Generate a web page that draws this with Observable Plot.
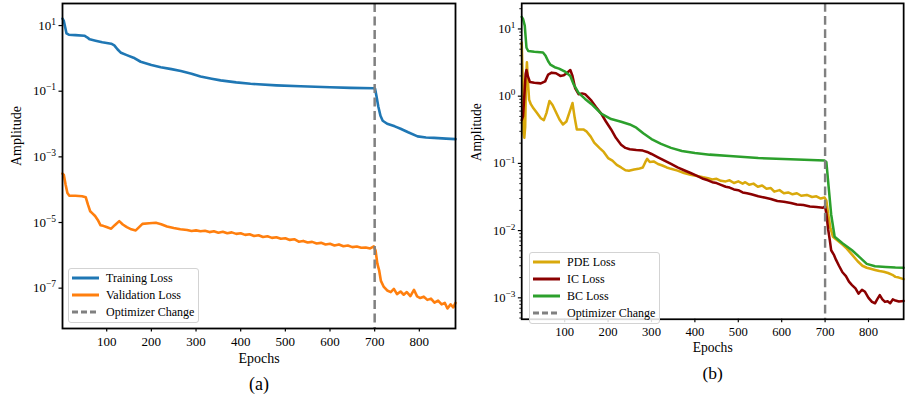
<!DOCTYPE html>
<html>
<head>
<meta charset="utf-8">
<script src="https://cdn.jsdelivr.net/npm/d3@7"></script>
<script src="https://cdn.jsdelivr.net/npm/@observablehq/plot@0.6"></script>
<style>
html, body { margin: 0; padding: 0; background: #fff; width: 909px; height: 403px; overflow: hidden; }
#wrap { position: relative; width: 909px; height: 403px; overflow: hidden; font-family: "Liberation Serif", "Times New Roman", serif; }
.panel { position: absolute; top: 0; }
.panel svg text { font-family: "Liberation Serif", "Times New Roman", serif; }
.legend { position: absolute; border: 1px solid #d3d3d3; border-radius: 3px; background: rgba(255,255,255,0.85); box-sizing: border-box; }
.legend .item { position: absolute; left: 0; height: 16px; width: 100%; }
.legend .item svg { position: absolute; left: 2px; top: 0; }
.legend .item span { position: absolute; left: 37px; top: 0; line-height: 16px; font-size: 12px; color: #000; white-space: nowrap; font-family: "Liberation Serif", "Times New Roman", serif; }
</style>
</head>
<body>
<div id="wrap"></div>
<script>
const SERIF = "Liberation Serif, Times New Roman, serif";
// ---------- shared ----------
const xTicks = [100, 200, 300, 400, 500, 600, 700, 800];
const optimizerChangeEpoch = 700;

// ---------- panel (a) ----------
const trainEpochs = [1,4,7,10,15,30,50,56,62,75,90,110,117,124,132,145,160,176,200,221,245,266,290,310,335,355,390,422,480,534,600,646,698,701,704,708,713,718,728,745,758,775,796,815,833,860,881];
const trainLoss = [16.2,13.8,8.9,5.75,5.25,5.1,4.9,4.4,3.8,3.45,3.1,2.8,2.5,1.9,1.48,1.26,1.05,0.79,0.63,0.54,0.47,0.41,0.34,0.28,0.24,0.214,0.186,0.168,0.151,0.141,0.132,0.126,0.123,0.117,0.071,0.035,0.0178,0.0126,0.0102,0.0085,0.0072,0.0056,0.0042,0.0039,0.0038,0.0036,0.00347];

const valEpochs = [1,4,8,12,16,30,45,53,58,63,68,74,80,86,92,98,104,110,118,128,136,145,155,165,172,180,195,210,222,235,250,265,280,290,300,310,320,330,340,350,360,370,380,390,400,410,420,430,440,450,460,470,480,490,500,510,520,530,540,550,560,570,580,590,600,610,620,630,640,650,660,670,680,690,698,702,706,710,714,720,728,736,743,750,758,765,772,780,788,795,802,810,818,826,834,842,850,857,863,870,876,881];
const valLoss = [3.1e-4,2.8e-4,1.41e-4,7.9e-5,6.6e-5,6.5e-5,6.3e-5,5.9e-5,3.5e-5,2.2e-5,1.9e-5,1.58e-5,1.2e-5,8.3e-6,7.9e-6,7.4e-6,6.9e-6,6.5e-6,8.3e-6,1.1e-5,8.7e-6,7.2e-6,6.2e-6,5.75e-6,7.1e-6,9.1e-6,9.5e-6,9.8e-6,8.9e-6,7.6e-6,6.8e-6,6.2e-6,5.9e-6,5.5e-6,5.75e-6,5.4e-6,5.6e-6,5.1e-6,5.4e-6,4.9e-6,5.25e-6,4.7e-6,5.0e-6,4.5e-6,4.7e-6,4.2e-6,4.4e-6,3.9e-6,4.1e-6,3.6e-6,3.8e-6,3.4e-6,3.55e-6,3.2e-6,3.3e-6,2.95e-6,3.1e-6,2.6e-6,2.75e-6,2.45e-6,2.57e-6,2.3e-6,2.4e-6,2.15e-6,2.25e-6,2.0e-6,2.15e-6,1.9e-6,2.0e-6,1.78e-6,1.86e-6,1.7e-6,1.74e-6,1.62e-6,1.86e-6,1.4e-6,5.6e-7,3.5e-7,1.66e-7,1.12e-7,8.5e-8,7.6e-8,9.5e-8,6.6e-8,7.9e-8,6.3e-8,7.6e-8,5.75e-8,8.9e-8,5.6e-8,5.0e-8,5.5e-8,4.4e-8,4.8e-8,3.6e-8,4.2e-8,3.2e-8,3.55e-8,2.4e-8,3.2e-8,2.6e-8,3.55e-8];

const yTicksA = [1e1, 1e-1, 1e-3, 1e-5, 1e-7];

// ---------- panel (b) ----------
const pdeEpochs = [1,3,5,7,9,11,13,15,18,22,28,35,45,52,58,65,72,80,88,96,104,111,118,123,128,136,143,150,160,168,180,190,200,210,220,230,240,248,260,270,280,286,290,296,305,315,325,335,345,360,375,390,405,419,430,440,450,460,471,480,490,500,510,516,525,535,545,555,565,575,583,595,605,615,625,635,645,658,670,680,690,699,703,707,712,718,728,740,750,762,775,786,796,805,815,825,835,845,855,862,870,881];
const pdeLoss = [6.3,2.0,0.28,0.24,0.35,1.78,3.2,1.78,0.89,0.76,0.66,0.575,0.47,0.44,0.56,0.85,0.74,0.575,0.45,0.38,0.42,0.575,0.79,0.48,0.32,0.32,0.32,0.30,0.25,0.204,0.17,0.148,0.12,0.11,0.095,0.087,0.079,0.078,0.081,0.083,0.087,0.105,0.117,0.105,0.107,0.098,0.093,0.087,0.083,0.078,0.072,0.068,0.065,0.062,0.060,0.0575,0.059,0.055,0.054,0.056,0.051,0.054,0.050,0.0525,0.048,0.050,0.045,0.047,0.042,0.043,0.038,0.040,0.036,0.037,0.0347,0.036,0.033,0.034,0.0316,0.0324,0.030,0.031,0.028,0.0178,0.0112,0.0081,0.0072,0.0062,0.0054,0.0044,0.0035,0.0030,0.0028,0.0027,0.0026,0.0025,0.00245,0.00234,0.0022,0.00205,0.002,0.0019];

const icEpochs = [1,4,7,10,12,15,20,30,45,55,62,70,80,90,98,106,113,118,124,132,140,147,155,162,172,184,195,207,218,230,240,250,265,280,290,300,315,330,345,360,375,390,405,419,430,440,450,460,471,480,490,500,510,520,530,546,560,575,590,605,621,635,650,665,680,695,700,703,707,711,714,720,725,732,740,748,755,762,770,777,785,792,800,808,815,820,826,832,838,844,850,856,862,870,881];
const icLoss = [0.44,0.50,1.0,2.14,2.45,2.0,1.62,1.58,1.55,1.66,2.1,2.24,2.19,2.0,2.04,2.24,2.45,2.0,1.32,1.07,1.10,1.07,0.95,0.85,0.69,0.55,0.42,0.32,0.24,0.19,0.17,0.162,0.158,0.155,0.148,0.138,0.123,0.11,0.098,0.087,0.079,0.072,0.065,0.059,0.056,0.0525,0.051,0.048,0.045,0.0437,0.041,0.040,0.037,0.036,0.0347,0.0324,0.031,0.0295,0.0275,0.0269,0.0257,0.0245,0.024,0.0229,0.0224,0.0219,0.0229,0.0178,0.0105,0.0071,0.0051,0.0044,0.0037,0.0030,0.0024,0.0021,0.00174,0.00155,0.00138,0.00115,0.00132,0.00123,0.0010,0.00087,0.00083,0.00095,0.0011,0.00095,0.00087,0.00089,0.00083,0.00095,0.00091,0.00088,0.0009];

const bcEpochs = [1,4,8,10,12,16,30,50,56,62,67,77,87,102,113,121,132,147,162,184,207,230,250,265,281,300,322,345,370,400,434,480,546,620,699,703,707,714,722,740,762,780,796,815,840,862,881];
const bcLoss = [15.1,14.1,11.2,7.6,5.25,4.7,4.57,4.47,3.98,3.3,2.95,2.7,2.57,2.29,2.0,1.48,1.12,0.91,0.76,0.55,0.457,0.417,0.38,0.34,0.28,0.23,0.195,0.17,0.153,0.143,0.135,0.129,0.12,0.115,0.11,0.104,0.054,0.0174,0.0081,0.0065,0.0051,0.0040,0.0032,0.00295,0.00288,0.00282,0.0028];

const yTicksB = [1e1, 1e0, 1e-1, 1e-2, 1e-3];
const minorTicksB = [5e-4,6e-4,7e-4,8e-4,9e-4, 2e-3,3e-3,4e-3,5e-3,6e-3,7e-3,8e-3,9e-3, 2e-2,3e-2,4e-2,5e-2,6e-2,7e-2,8e-2,9e-2, 0.2,0.3,0.4,0.5,0.6,0.7,0.8,0.9, 2,3,4,5,6,7,8,9, 20];

// ---------- helpers ----------
function toRows(epochs, values, series) {
  return epochs.map((e, i) => ({epoch: e, value: values[i], series}));
}

function fmtPow(d) {
  return "10^" + Math.round(Math.log10(d));
}

function makePanel({seriesList, yDomain, yTicks, minorTicks, width, marginLeft, marginRight, tag}) {
  const data = seriesList.flatMap(s => toRows(s.epochs, s.values, s.name));
  const marks = [];
  for (const s of seriesList) {
    marks.push(Plot.line(data.filter(d => d.series === s.name), {
      x: "epoch", y: "value", stroke: s.color, strokeWidth: 2.6, strokeLinejoin: "round"
    }));
  }
  marks.push(Plot.ruleX([optimizerChangeEpoch], {stroke: "#808080", strokeWidth: 2.5, strokeDasharray: "9,4.5"}));
  marks.push(Plot.frame({stroke: "black", strokeWidth: 1.8}));
  marks.push(Plot.axisX({ticks: xTicks, tickSize: 3.5, tickPadding: 5, fontSize: 13, fontFamily: SERIF, label: null, tickFormat: d => String(d), strokeWidth: 1.2}));
  marks.push(Plot.axisY({ticks: yTicks, tickSize: 3.5, tickPadding: 3, fontSize: 13, fontFamily: SERIF, label: null, tickFormat: fmtPow, strokeWidth: 1.2}));
  if (minorTicks) marks.push(Plot.axisY({ticks: minorTicks, tickSize: 2, tickFormat: () => "", label: null, strokeWidth: 0.9}));
  marks.push(Plot.text(["Epochs"], {frameAnchor: "bottom", dy: 34, lineAnchor: "bottom", fontSize: 14, fontFamily: SERIF, fill: "black"}));
  marks.push(Plot.text([tag], {frameAnchor: "bottom", dy: 61, lineAnchor: "bottom", fontSize: 18, fontFamily: SERIF, fill: "black"}));
  marks.push(Plot.text(["Amplitude"], {frameAnchor: "left", dx: -46, rotate: -90, lineAnchor: "middle", fontSize: 14, fontFamily: SERIF, fill: "black"}));

  const svg = Plot.plot({
    width, height: 403,
    marginLeft, marginRight, marginTop: 3, marginBottom: 75,
    style: {fontFamily: SERIF, color: "black", background: "transparent", overflow: "visible"},
    x: {type: "linear", domain: [1, 881]},
    y: {type: "log", domain: yDomain},
    marks
  });
  // superscript exponents on the log-axis labels
  d3.select(svg).selectAll("text").each(function () {
    const t = this.textContent;
    const m = /^10\^(-?\d+)$/.exec(t);
    if (m) {
      const exp = m[1].replace("-", "\u2212");
      this.textContent = "10";
      const ts = document.createElementNS("http://www.w3.org/2000/svg", "tspan");
      ts.setAttribute("dy", "-5");
      ts.setAttribute("font-size", "9.5");
      ts.textContent = exp;
      this.appendChild(ts);
    }
  });
  return svg;
}

function makeLegend(items, left, top, width) {
  const div = document.createElement("div");
  div.className = "legend";
  div.style.left = left + "px";
  div.style.top = top + "px";
  div.style.width = width + "px";
  div.style.height = (10.3 + (items.length - 1) * 16.8 + 11) + "px";
  items.forEach((it, i) => {
    const row = document.createElement("div");
    row.className = "item";
    row.style.top = (10.3 + i * 16.8 - 8 - 1) + "px";
    const dash = it.dashed ? ' stroke-dasharray="6,3"' : '';
    row.innerHTML = `<svg width="30" height="16"><line x1="1" x2="28" y1="8" y2="8" stroke="${it.color}" stroke-width="3"${dash}/></svg><span>${it.label}</span>`;
    div.appendChild(row);
  });
  return div;
}

const wrap = document.getElementById("wrap");

const panelA = makePanel({
  seriesList: [
    {name: "Training Loss", epochs: trainEpochs, values: trainLoss, color: "#1f77b4"},
    {name: "Validation Loss", epochs: valEpochs, values: valLoss, color: "#ff7f0e"}
  ],
  yDomain: [5.9e-9, 47], yTicks: yTicksA, minorTicks: null,
  width: 460, marginLeft: 62, marginRight: 5, tag: "(a)"
});
const divA = document.createElement("div");
divA.className = "panel"; divA.style.left = "0px";
divA.appendChild(panelA);
wrap.appendChild(divA);

const panelB = makePanel({
  seriesList: [
    {name: "PDE Loss", epochs: pdeEpochs, values: pdeLoss, color: "#d9a90c"},
    {name: "IC Loss", epochs: icEpochs, values: icLoss, color: "#8b0000"},
    {name: "BC Loss", epochs: bcEpochs, values: bcLoss, color: "#2ca02c"}
  ],
  yDomain: [4.8e-4, 24], yTicks: yTicksB, minorTicks: minorTicksB,
  width: 462, marginLeft: 63, marginRight: 6, tag: "(b)"
});
const divB = document.createElement("div");
divB.className = "panel"; divB.style.left = "460px";
divB.appendChild(panelB);
wrap.appendChild(divB);

wrap.appendChild(makeLegend([
  {label: "Training Loss", color: "#1f77b4"},
  {label: "Validation Loss", color: "#ff7f0e"},
  {label: "Optimizer Change", color: "#808080", dashed: true}
], 68, 268, 131));

wrap.appendChild(makeLegend([
  {label: "PDE Loss", color: "#d9a90c"},
  {label: "IC Loss", color: "#8b0000"},
  {label: "BC Loss", color: "#2ca02c"},
  {label: "Optimizer Change", color: "#808080", dashed: true}
], 529, 252, 131));
</script>
</body>
</html>
